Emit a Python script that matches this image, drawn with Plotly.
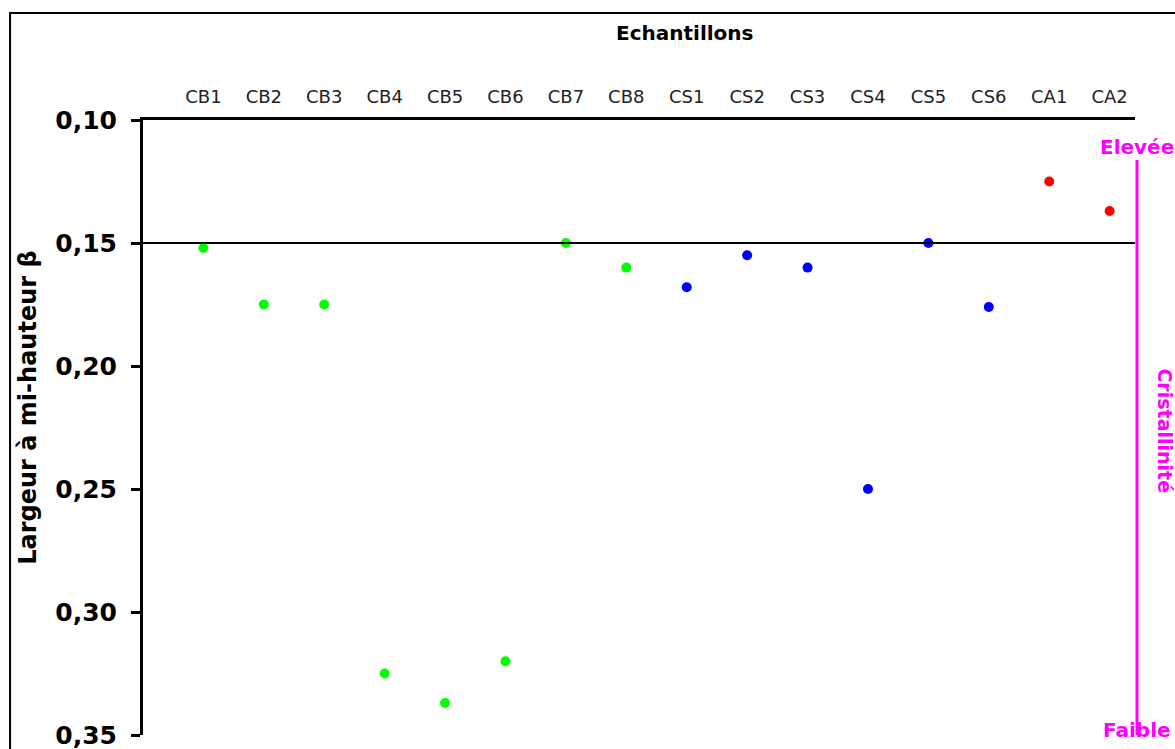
import plotly.graph_objects as go

categories = ["CB1", "CB2", "CB3", "CB4", "CB5", "CB6", "CB7", "CB8",
              "CS1", "CS2", "CS3", "CS4", "CS5", "CS6", "CA1", "CA2"]
values = [0.152, 0.175, 0.175, 0.325, 0.337, 0.320, 0.150, 0.160,
          0.168, 0.155, 0.160, 0.250, 0.150, 0.176, 0.125, 0.137]
groups = ["CB"] * 8 + ["CS"] * 6 + ["CA"] * 2
group_colors = {"CB": "#00FF00", "CS": "#0000FF", "CA": "#FF0000"}
yticks = [0.10, 0.15, 0.20, 0.25, 0.30, 0.35]
ytick_labels = ["<b>0,10</b>", "<b>0,15</b>", "<b>0,20</b>", "<b>0,25</b>", "<b>0,30</b>", "<b>0,35</b>"]
ref_line = 0.15

xpos = list(range(1, len(categories) + 1))
FONT = "DejaVu Sans, sans-serif"

fig = go.Figure()
for g in ["CB", "CS", "CA"]:
    xs = [x for x, gg in zip(xpos, groups) if gg == g]
    ys = [v for v, gg in zip(values, groups) if gg == g]
    fig.add_trace(go.Scatter(x=xs, y=ys, mode="markers",
                             marker=dict(color=group_colors[g], size=10),
                             showlegend=False, cliponaxis=False))

fig.update_layout(
    width=1175, height=749,
    margin=dict(l=143, r=40, t=120, b=14, autoexpand=False),
    paper_bgcolor="white", plot_bgcolor="white",
    font=dict(family=FONT, color="black"),
    xaxis=dict(range=[0, 16.42], side="top", tickvals=xpos, ticktext=categories,
               showgrid=False, zeroline=False, showline=True, linecolor="black",
               linewidth=3, ticks="", tickfont=dict(size=18, color="#222222"),
               ticklabelstandoff=7, automargin=False),
    yaxis=dict(range=[0.35, 0.10], tickvals=yticks, ticktext=ytick_labels,
               showgrid=False, zeroline=False, showline=True, linecolor="black",
               linewidth=3, ticks="outside", ticklen=9, tickwidth=3, tickcolor="black",
               tickfont=dict(size=25, color="black"),
               ticklabelstandoff=9, ticklabeloverflow="allow", automargin=False),
)

# reference line at 0.15
fig.add_shape(type="line", xref="paper", yref="y", x0=0, x1=1, y0=ref_line, y1=ref_line,
              line=dict(color="black", width=2))
# outer frame
fig.add_shape(type="rect", xref="paper", yref="paper", x0=-0.134, x1=1.2, y0=-0.2, y1=1.174,
              line=dict(color="black", width=2), layer="below")
# magenta crystallinity line
fig.add_shape(type="line", xref="paper", yref="paper", x0=1.002, x1=1.002, y0=0.0, y1=0.935,
              line=dict(color="#FF00FF", width=3))

fig.add_annotation(text="<b>Echantillons</b>", xref="paper", yref="paper",
                   x=0.546, y=1.1415, xanchor="center", yanchor="middle", showarrow=False,
                   font=dict(size=20, color="black"))
fig.add_annotation(text="<b>Largeur à mi-hauteur β</b>", xref="paper", yref="paper",
                   x=-0.116, y=0.532, xanchor="center", yanchor="middle", showarrow=False,
                   textangle=-90, font=dict(size=24, color="black"))
fig.add_annotation(text="<b>Elevée</b>", xref="paper", yref="paper",
                   x=1.002, y=0.956, xanchor="center", yanchor="middle", showarrow=False,
                   font=dict(size=20, color="#FF00FF"))
fig.add_annotation(text="<b>Faible</b>", xref="paper", yref="paper",
                   x=1.002, y=0.008, xanchor="center", yanchor="middle", showarrow=False,
                   font=dict(size=20, color="#FF00FF"))
fig.add_annotation(text="<b>Cristallinité</b>", xref="paper", yref="paper",
                   x=1.030, y=0.494, xanchor="center", yanchor="middle", showarrow=False,
                   textangle=90, font=dict(size=19, color="#FF00FF"))

fig.write_html("out.html", config={"displayModeBar": False},
               post_script="document.body.style.margin='0';document.body.style.overflow='hidden';")
